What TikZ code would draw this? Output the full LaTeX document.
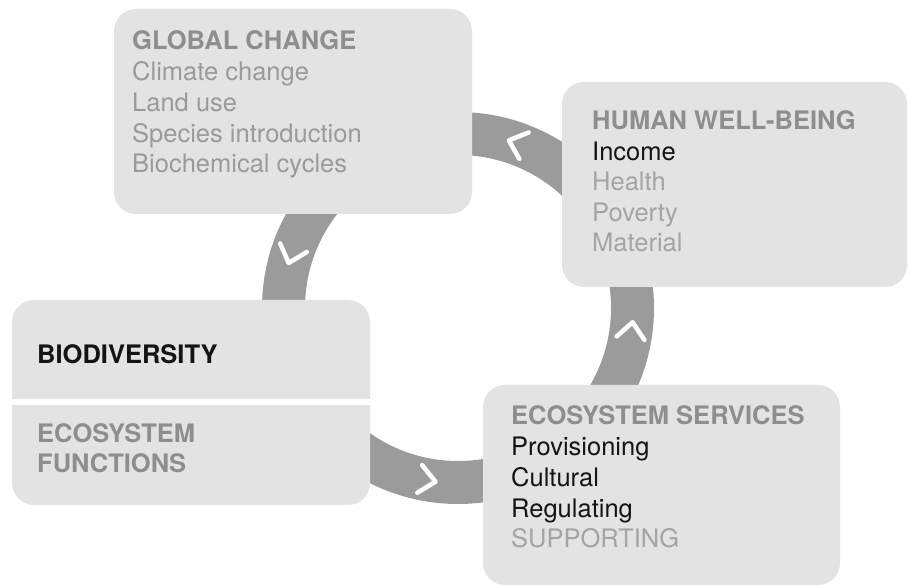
\documentclass[tikz,border=0pt]{standalone}
\usepackage{fontspec}
\setmainfont{TeX Gyre Heros}
\definecolor{boxfill}{HTML}{E3E3E3}
\definecolor{ringgray}{HTML}{9B9B9B}
\definecolor{headgray}{HTML}{8E8E8E}
\definecolor{itemgray}{HTML}{9A9A9A}
\definecolor{lightgray}{HTML}{A4A4A4}
\definecolor{darktext}{HTML}{141414}
\begin{document}
\begin{tikzpicture}[x=1pt,y=1pt,
  box/.style={fill=boxfill, rounded corners=22pt, inner sep=0pt, draw=none},
  txt/.style={anchor=base west, inner sep=0pt, font=\fontsize{25.5}{30}\selectfont},
  head/.style={txt, text=headgray, font=\fontsize{25.5}{30}\selectfont\bfseries},
  item/.style={txt, text=itemgray},
  chev/.style={draw=white, line width=4.5pt, line cap=round, line join=round}]
\useasboundingbox (0,0) rectangle (908,586);
% ring
\coordinate (c) at (458,278);
\fill[ringgray, even odd rule] (c) circle[radius=196pt] (c) circle[radius=153pt];
\foreach \a in {70.5,162.5,260,-7.3}{
  \begin{scope}[shift={(c)}, rotate=\a]
    \draw[chev] (161,-8) -- (175,8) -- (189,-8);
  \end{scope}
}
% boxes
\node[box, minimum width=358pt, minimum height=205pt] (gc) at (293,474.5) {};
\node[box, minimum width=345pt, minimum height=205pt] (hwb) at (734.5,401.5) {};
\node[box, minimum width=358pt, minimum height=205pt] (bio) at (191,183.5) {};
\node[box, minimum width=357pt, minimum height=200pt] (ess) at (661.5,101) {};
\draw[white, line width=6pt] (bio.west |- 0,184) -- (bio.east |- 0,184);
% global change
\node[head] (gc0) at (132,536) {GLOBAL CHANGE};
\node[item] (gc1) at (132,505.25) {Climate change};
\node[item] (gc2) at (132,474.5) {Land use};
\node[item] (gc3) at (132,443.75) {Species introduction};
\node[item] (gc4) at (132,413) {Biochemical cycles};
% human well-being
\node[head] (hw0) at (592,456) {HUMAN WELL-BEING};
\node[txt, text=darktext] (hw1) at (592,425.5) {Income};
\node[txt, text=lightgray] (hw2) at (592,395) {Health};
\node[txt, text=lightgray] (hw3) at (592,364.5) {Poverty};
\node[txt, text=lightgray] (hw4) at (592,334) {Material};
% biodiversity
\node[txt, text=darktext, font=\fontsize{25.5}{30}\selectfont\bfseries] (bio0) at (37,222) {BIODIVERSITY};
\node[head] (bio1) at (37,143) {ECOSYSTEM};
\node[head] (bio2) at (37,113) {FUNCTIONS};
% ecosystem services
\node[head] (es0) at (511,161) {ECOSYSTEM SERVICES};
\node[txt, text=darktext] (es1) at (511,130) {Provisioning};
\node[txt, text=darktext] (es2) at (511,99) {Cultural};
\node[txt, text=darktext] (es3) at (511,68.5) {Regulating};
\node[txt, text=lightgray] (es4) at (511,38) {SUPPORTING};
\end{tikzpicture}
\end{document}
